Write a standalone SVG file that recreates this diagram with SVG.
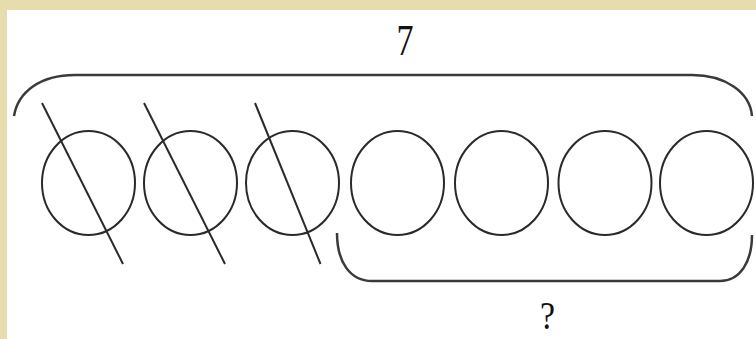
<svg xmlns="http://www.w3.org/2000/svg" width="756" height="339" viewBox="0 0 756 339">
<style>
.c{fill:none;stroke:#2a2a2a;stroke-width:2}
.s{stroke:#2a2a2a;stroke-width:2}
.b{fill:none;stroke:#3a3a3a;stroke-width:2.5}
.t{font-family:"Liberation Serif",serif;fill:#111}
</style>
<rect x="0" y="0" width="756" height="339" fill="#e6dcae"/>
<rect x="7" y="10" width="749" height="329" fill="#ffffff"/>
<g id="top-brace"><path class="b" d="M14,116 C18,92 40,75 75,75 L692,75 C725,75 750,92 752,116"/></g>
<g id="bottom-brace"><path class="b" d="M337,233 C337,262 350,281 372,281 L720,281 C740,281 752,262 752,235"/></g>
<g id="label-7"><text class="t" x="405" y="55" font-size="44" text-anchor="middle" textLength="17" lengthAdjust="spacingAndGlyphs">7</text></g>
<g id="label-q"><text class="t" x="547.5" y="329" font-size="40" text-anchor="middle" textLength="15" lengthAdjust="spacingAndGlyphs">?</text></g>
<g id="circle1"><ellipse class="c" cx="88.5" cy="183" rx="46.5" ry="52"/></g>
<g id="circle2"><ellipse class="c" cx="190.5" cy="183" rx="46.5" ry="52"/></g>
<g id="circle3"><ellipse class="c" cx="292.5" cy="183" rx="46.5" ry="52"/></g>
<g id="circle4"><ellipse class="c" cx="397.5" cy="183" rx="46.5" ry="52"/></g>
<g id="circle5"><ellipse class="c" cx="501.5" cy="183" rx="46.5" ry="52"/></g>
<g id="circle6"><ellipse class="c" cx="605" cy="183" rx="46.5" ry="52"/></g>
<g id="circle7"><ellipse class="c" cx="706.5" cy="183" rx="46.5" ry="52"/></g>
<g id="slashes">
<line class="s" x1="42" y1="103" x2="123" y2="264"/>
<line class="s" x1="144" y1="103" x2="225" y2="264"/>
<line class="s" x1="255" y1="103" x2="320.5" y2="264"/>
</g>
</svg>
